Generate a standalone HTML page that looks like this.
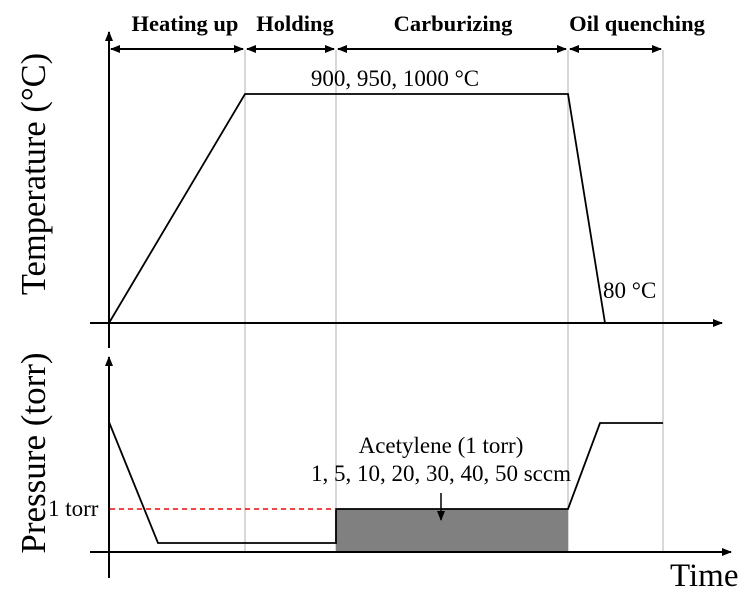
<!DOCTYPE html>
<html><head><meta charset="utf-8"><style>body{margin:0;background:#fff}svg{display:block}</style></head>
<body>
<svg width="753" height="607" viewBox="0 0 753 607" xmlns="http://www.w3.org/2000/svg" font-family="Liberation Serif, serif">
<defs>
<marker id="a" markerWidth="10" markerHeight="8" refX="9" refY="4" orient="auto" markerUnits="userSpaceOnUse"><path d="M0,0 L10,4 L0,8 Z" fill="#000"/></marker>
<marker id="s" markerWidth="10" markerHeight="8" refX="1" refY="4" orient="auto" markerUnits="userSpaceOnUse"><path d="M10,0 L0,4 L10,8 Z" fill="#000"/></marker>
</defs>
<g stroke="#ccc" stroke-width="1.5">
<line x1="245" y1="50" x2="245" y2="552"/><line x1="336" y1="50" x2="336" y2="552"/>
<line x1="568" y1="50" x2="568" y2="552"/><line x1="663" y1="50" x2="663" y2="552"/>
</g>
<rect x="336" y="509" width="232" height="43" fill="#808080"/>
<g stroke="#000" stroke-width="2" fill="none">
<line x1="109" y1="348" x2="109" y2="32" marker-end="url(#a)"/>
<line x1="90" y1="323" x2="722" y2="323" marker-end="url(#a)"/>
<line x1="109" y1="578" x2="109" y2="357" marker-end="url(#a)"/>
<line x1="90" y1="552" x2="731" y2="552" marker-end="url(#a)"/>
<line x1="111" y1="49" x2="243" y2="49" marker-start="url(#s)" marker-end="url(#a)"/>
<line x1="247" y1="49" x2="334" y2="49" marker-start="url(#s)" marker-end="url(#a)"/>
<line x1="338" y1="49" x2="566" y2="49" marker-start="url(#s)" marker-end="url(#a)"/>
<line x1="570" y1="49" x2="661" y2="49" marker-start="url(#s)" marker-end="url(#a)"/>
<polyline points="109,323 245,94 568,94 605,323" stroke-width="1.8"/>
<polyline points="109,422 158,543 336,543 336,509 568,509 600,423 663,423" stroke-width="1.8"/>
<line x1="441" y1="493" x2="441" y2="520" stroke-width="1.5" marker-end="url(#a)"/>
</g>
<line x1="110" y1="509" x2="336" y2="509" stroke="#f00" stroke-width="1.5" stroke-dasharray="5,4"/>
<g font-weight="bold" font-size="22.5" text-anchor="middle">
<text x="185" y="31">Heating up</text><text x="295" y="31">Holding</text>
<text x="453" y="31">Carburizing</text><text x="637" y="31">Oil quenching</text>
</g>
<g font-size="23">
<text x="395" y="86" text-anchor="middle">900, 950, 1000 °C</text>
<text x="603" y="298">80 °C</text>
<text x="441" y="453" text-anchor="middle">Acetylene (1 torr)</text>
<text x="441" y="481" text-anchor="middle">1, 5, 10, 20, 30, 40, 50 sccm</text>
<text x="48" y="516">1 torr</text>
</g>
<text x="670" y="586" font-size="33">Time</text>
<text transform="translate(45,174) rotate(-90)" font-size="34.5" text-anchor="middle">Temperature (°C)</text>
<text transform="translate(45,453) rotate(-90)" font-size="35" text-anchor="middle">Pressure (torr)</text>
</svg>
</body></html>
